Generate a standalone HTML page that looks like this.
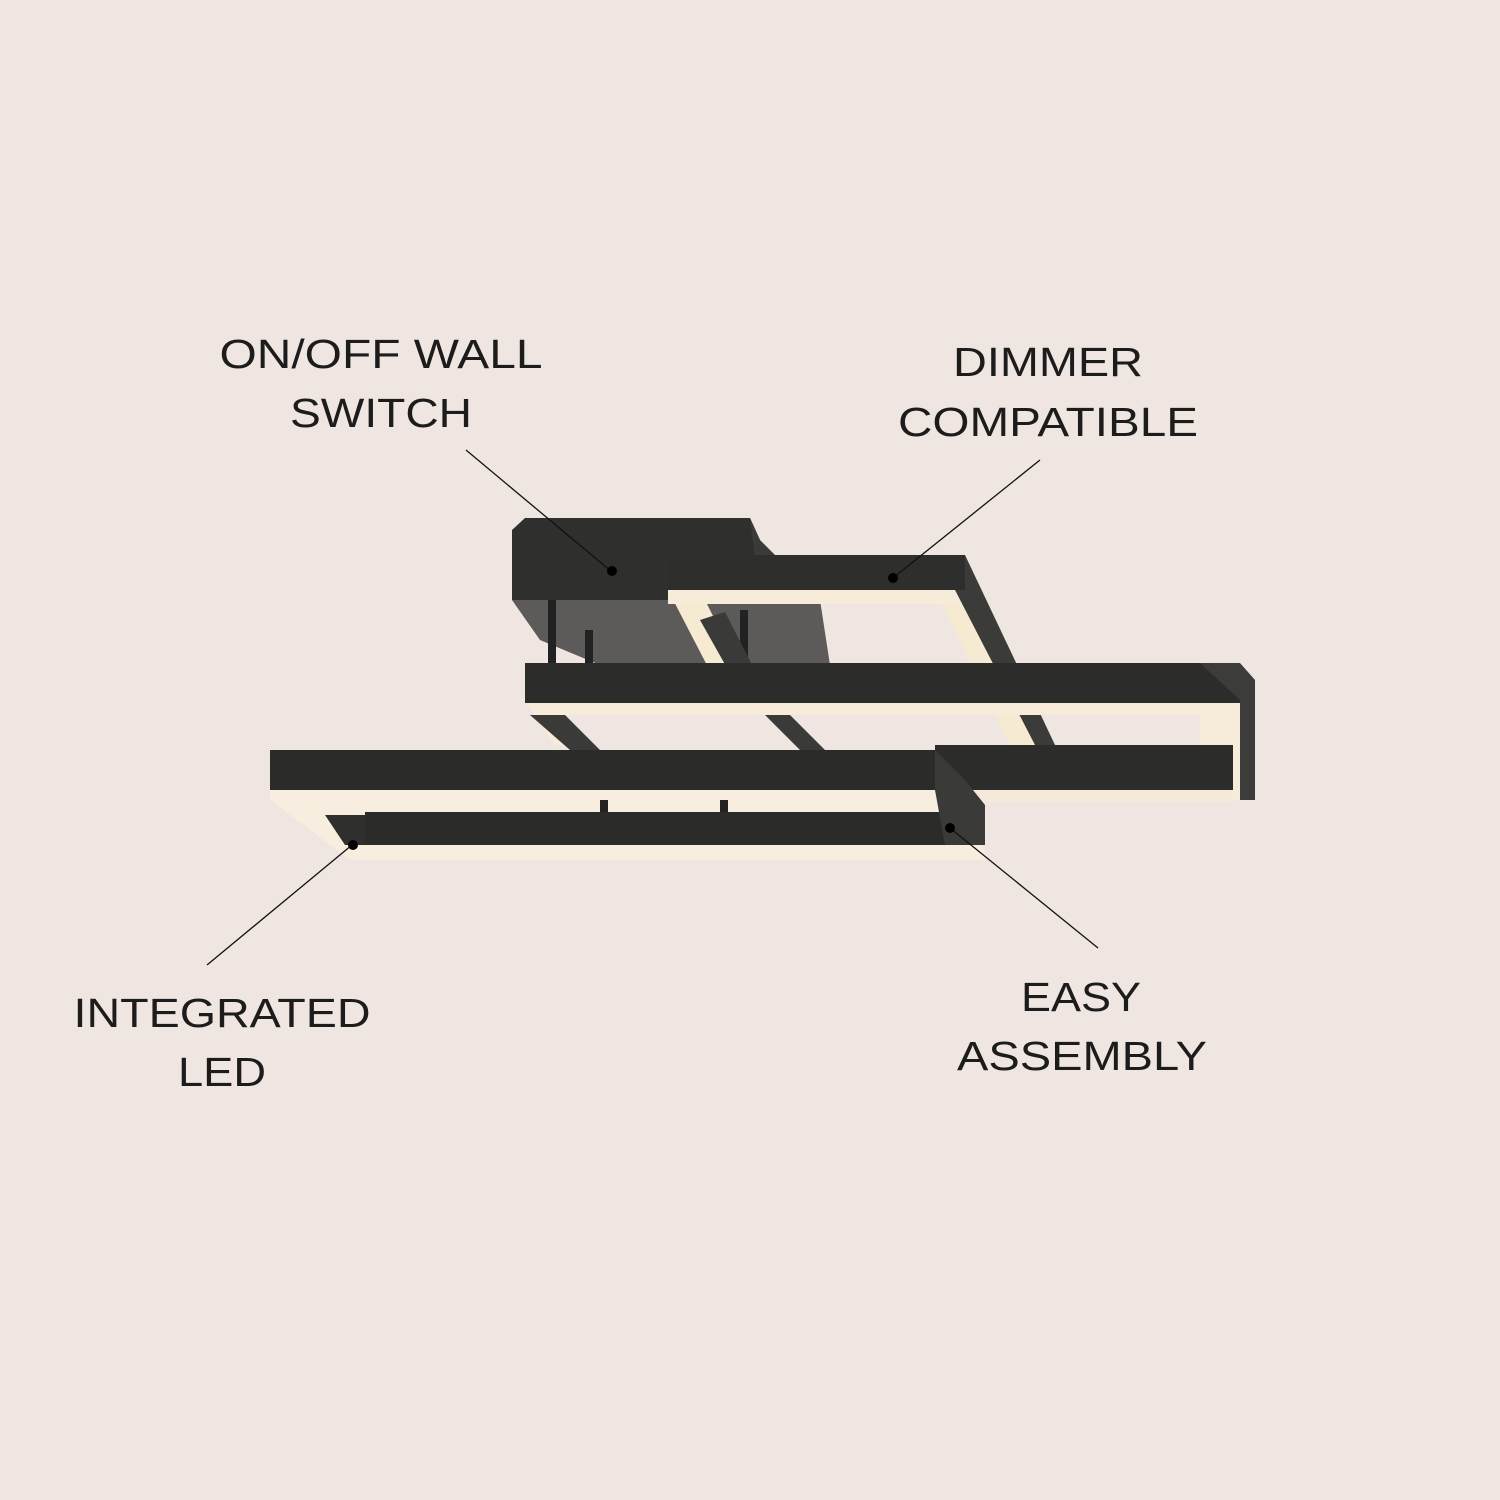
<!DOCTYPE html>
<html><head><style>
html,body{margin:0;padding:0;background:#efe6e2;}
svg{display:block}
text{font-family:"Liberation Sans",sans-serif;font-size:41px;fill:#1c1c1c;text-anchor:middle}
</style></head><body>
<svg width="1500" height="1500" viewBox="0 0 1500 1500">
<rect width="1500" height="1500" fill="#efe6e2"/>
<!-- canopy -->
<polygon points="512,600 820,600 830,665 600,665 540,640" fill="#5d5b59"/>
<polygon points="512,530 525,518 750,518 760,540 760,600 512,600" fill="#2f2f2d"/>
<polygon points="750,518 760,540 820,600 760,600" fill="#3a3a38"/>
<rect x="548" y="600" width="8" height="75" fill="#222"/>
<rect x="585" y="630" width="8" height="45" fill="#222"/>
<rect x="740" y="610" width="8" height="60" fill="#222"/>
<!-- frame 1 upper right -->
<polygon points="668,590 700,590 745,680 725,700" fill="#f6ead3"/>
<polygon points="935,590 965,590 1040,745 1010,745" fill="#f6ead3"/>
<rect x="668" y="555" width="297" height="35" fill="#2e2e2c"/>
<rect x="668" y="590" width="297" height="14" fill="#f6ecd9"/>
<polygon points="965,555 1055,745 1035,745 955,590 965,590" fill="#3b3b39"/>
<polygon points="700,620 725,612 770,700 745,700" fill="#3a3a38"/>
<!-- frame 2 middle -->
<polygon points="525,700 1240,700 1240,800 1200,800 1200,715 560,715 585,745 555,745" fill="#f6ecd9"/>
<rect x="525" y="663" width="715" height="40" fill="#2c2c2a"/>
<polygon points="1200,663 1240,663 1255,680 1255,800 1240,800 1240,700" fill="#3c3c3a"/>
<polygon points="530,715 565,715 600,750 570,750" fill="#3a3a38"/>
<polygon points="765,715 790,715 825,750 800,750" fill="#3a3a38"/>
<rect x="1200" y="715" width="40" height="85" fill="#f6ecd9"/>
<rect x="935" y="745" width="298" height="45" fill="#2c2c2a"/>
<rect x="935" y="790" width="298" height="12" fill="#f5eada"/>
<!-- frame 3 front -->
<rect x="270" y="750" width="665" height="40" fill="#2b2b29"/>
<polygon points="270,790 935,790 985,850 985,860 350,860 270,800" fill="#f7eedf"/>
<polygon points="325,815 365,815 372,845 345,845" fill="#2f2f2d"/>
<rect x="365" y="812" width="580" height="33" fill="#2b2b29"/>
<polygon points="935,750 965,780 985,805 985,845 945,845 935,790" fill="#3a3a38"/>
<rect x="600" y="800" width="8" height="12" fill="#222"/>
<rect x="720" y="800" width="8" height="12" fill="#222"/>
<!-- leaders -->
<g stroke="#111" stroke-width="1.3">
<line x1="466" y1="450" x2="612" y2="572"/>
<line x1="1040" y1="460" x2="893" y2="578"/>
<line x1="207" y1="965" x2="352" y2="845"/>
<line x1="1098" y1="948" x2="950" y2="828"/>
</g>
<g fill="#000">
<circle cx="612" cy="571" r="5"/>
<circle cx="893" cy="578" r="5"/>
<circle cx="353" cy="845" r="5"/>
<circle cx="950" cy="828" r="5"/>
</g>
<!-- labels -->
<text x="381" y="368" textLength="323" lengthAdjust="spacingAndGlyphs">ON/OFF WALL</text>
<text x="381" y="427" textLength="182" lengthAdjust="spacingAndGlyphs">SWITCH</text>
<text x="1048" y="376" textLength="190" lengthAdjust="spacingAndGlyphs">DIMMER</text>
<text x="1048" y="436" textLength="300" lengthAdjust="spacingAndGlyphs">COMPATIBLE</text>
<text x="222" y="1027" textLength="297" lengthAdjust="spacingAndGlyphs">INTEGRATED</text>
<text x="222" y="1086" textLength="88" lengthAdjust="spacingAndGlyphs">LED</text>
<text x="1081" y="1011" textLength="120" lengthAdjust="spacingAndGlyphs">EASY</text>
<text x="1082" y="1070" textLength="250" lengthAdjust="spacingAndGlyphs">ASSEMBLY</text>
</svg>
</body></html>
